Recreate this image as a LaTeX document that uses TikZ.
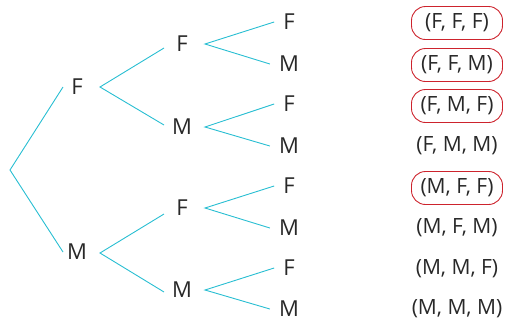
\documentclass[tikz,border=0pt]{standalone}
\usepackage{fontspec}
\setmainfont{Open Sans}
\definecolor{branch}{RGB}{40,190,210}
\definecolor{ring}{RGB}{205,35,45}
\definecolor{ink}{RGB}{40,40,40}
\begin{document}
\begin{tikzpicture}[x=1pt,y=-1pt,
  lbl/.style={text=ink,font=\fontsize{22}{22}\selectfont,inner sep=0pt},
  res/.style={text=ink,font=\fontsize{21}{21}\selectfont,inner sep=0pt,minimum width=91pt,minimum height=33pt},
  circled/.style={draw=ring,line width=0.9pt,rounded corners=14pt},
  br/.style={draw=branch,line width=0.9pt}]
\useasboundingbox (0,0) rectangle (505,322);
\coordinate (r) at (10,170);
\node[lbl] (a1) at (77,87) {F};
\node[lbl] (a2) at (77,252) {M};
\node[lbl] (b1) at (182,44) {F};
\node[lbl] (b2) at (182,127) {M};
\node[lbl] (b3) at (182,208) {F};
\node[lbl] (b4) at (182,290) {M};
\node[lbl] (c1) at (289,22) {F};
\node[lbl] (c2) at (289,64) {M};
\node[lbl] (c3) at (289,104) {F};
\node[lbl] (c4) at (289,146) {M};
\node[lbl] (c5) at (289,186) {F};
\node[lbl] (c6) at (289,228) {M};
\node[lbl] (c7) at (289,268) {F};
\node[lbl] (c8) at (289,309) {M};
\coordinate (a1w) at (63,87);
\coordinate (a2w) at (63,252);
\coordinate (b1w) at (164,48);
\coordinate (b2w) at (164,125);
\coordinate (b3w) at (164,214);
\coordinate (b4w) at (164,292);
\coordinate (a1e) at (100,87);
\coordinate (a2e) at (100,253);
\draw[br] (a1w) -- (r) -- (a2w);
\draw[br] (b1w) -- (a1e) -- (b2w);
\draw[br] (b3w) -- (a2e) -- (b4w);
\foreach \p/\q/\s in {b1/c1/c2,b2/c3/c4,b3/c5/c6,b4/c7/c8}{
  \draw[br] ([xshift=-9pt]\q.west) -- ([xshift=23pt]\p.center) -- ([xshift=-9pt]\s.west);
}
\node[res,circled] (d1) at (457,23) {(F, F, F)};
\node[res,circled] (d2) at (457,65) {(F, F, M)};
\node[res,circled] (d3) at (457,106) {(F, M, F)};
\node[res] (d4) at (457,146) {(F, M, M)};
\node[res,circled] (d5) at (457,188) {(M, F, F)};
\node[res] (d6) at (457,228) {(M, F, M)};
\node[res] (d7) at (457,269) {(M, M, F)};
\node[res] (d8) at (457,309) {(M, M, M)};
\end{tikzpicture}
\end{document}
